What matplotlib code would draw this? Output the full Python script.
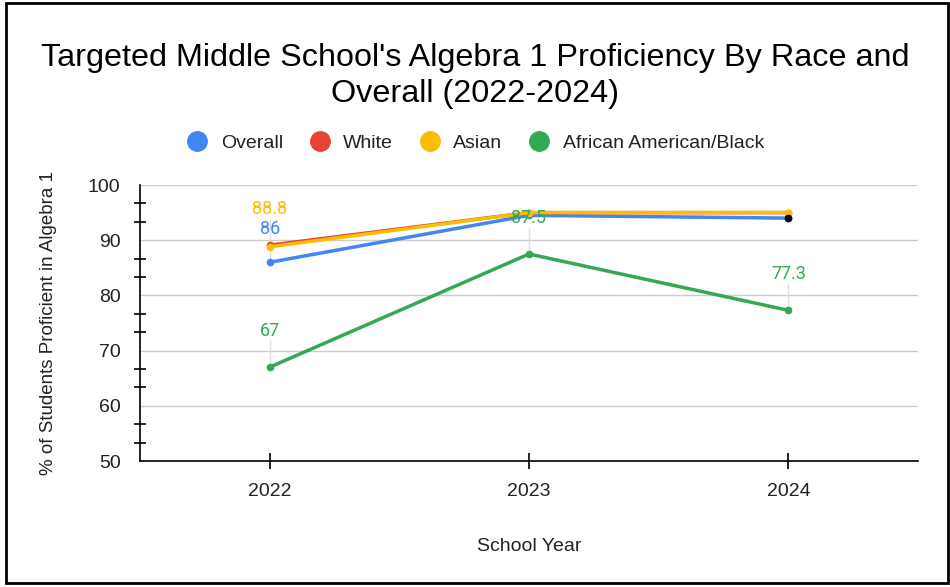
import matplotlib.pyplot as plt
from matplotlib.lines import Line2D
from matplotlib.patches import Rectangle
from matplotlib.ticker import MultipleLocator

years = ["2022", "2023", "2024"]
overall = [86, 94.5, 94]
white = [89.1, 95, 95]
asian = [88.8, 95, 95]
black = [67, 87.5, 77.3]

series_names = ["Overall", "White", "Asian", "African American/Black"]
colors = ["#4285f4", "#ea4335", "#fbbc04", "#34a853"]

plt.rcParams['font.family'] = ['Liberation Sans', 'DejaVu Sans']

fig = plt.figure(figsize=(9.5, 5.87), dpi=100)
ax = fig.add_axes([140 / 950, 1 - 461 / 587, 778 / 950, 276 / 587])

x = list(range(len(years)))
for vals, c in zip([overall, white, asian, black], colors):
    ax.plot(x, vals, color=c, lw=2.5, marker="o", ms=4.5, zorder=3, solid_capstyle="round")
# last overall point drawn dark
ax.plot(x[2], overall[2], "o", color="black", ms=4.5, zorder=4)

# data labels with faint leader lines (offset in pixels above the point)
labels = [(0, asian[0], colors[2], 38), (0, overall[0], colors[0], 33),
          (0, black[0], colors[3], 36), (1, black[1], colors[3], 36),
          (2, black[2], colors[3], 36)]
for xi, v, c, off in labels:
    ax.annotate(f"{v:g}", (xi, v), xytext=(0, off), textcoords="offset pixels",
                ha="center", va="center", color=c, fontsize=13, family="Roboto",
                zorder=5)
    ax.plot([xi, xi], [v, v + (off - 10) / 5.52], color="#e0e0e0", lw=1, zorder=1)

ax.set_xlim(-0.5, 2.5)
ax.set_ylim(50, 100)
ax.set_xticks(x)
ax.set_xticklabels(years)
ax.yaxis.set_major_locator(MultipleLocator(10))
ax.yaxis.set_minor_locator(MultipleLocator(10 / 3))
ax.grid(axis="y", color="#cccccc", lw=1)
ax.set_axisbelow(True)
for s in ["top", "right"]:
    ax.spines[s].set_visible(False)
ax.spines["left"].set_linewidth(1.2)
ax.spines["bottom"].set_linewidth(1.2)
ax.tick_params(axis="y", which="major", length=0, labelsize=14, pad=14, labelcolor="#222222")
ax.tick_params(axis="y", which="minor", length=8, direction="inout", width=1.2)
ax.tick_params(axis="x", length=12, direction="inout", width=1.2, labelsize=14, pad=10,
               labelcolor="#222222")
ax.set_xlabel("School Year", fontsize=14, labelpad=27, color="#222222")
ax.set_ylabel("% of Students Proficient in Algebra 1", fontsize=13.5, labelpad=22, color="#222222")

fig.text(0.5, 1 - 76 / 587, "Targeted Middle School's Algebra 1 Proficiency By Race and\nOverall (2022-2024)",
         ha="center", va="center", fontsize=23.3, linespacing=1.3)

handles = [Line2D([], [], marker="o", ls="", color=c, ms=14) for c in colors]
fig.legend(handles, series_names, loc="center", bbox_to_anchor=(0.5, 1 - 143 / 587),
           ncol=4, frameon=False, fontsize=14, handletextpad=0.6, columnspacing=1.3,
           handlelength=1.2, labelcolor="#222222")

fig.add_artist(Rectangle((6 / 950, 4 / 587), 942 / 950, 580 / 587, transform=fig.transFigure,
                         fill=False, ec="black", lw=2))

fig.savefig("out.png", dpi=100)
